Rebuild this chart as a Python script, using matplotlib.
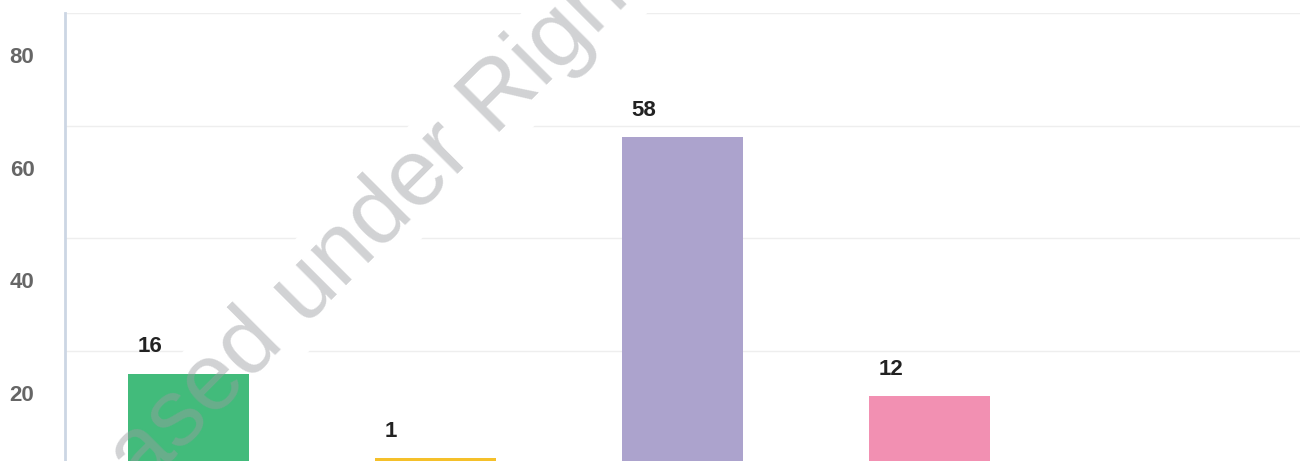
import matplotlib
matplotlib.use("Agg")
from matplotlib import pyplot as plt
from matplotlib.transforms import ScaledTranslation

plt.rcParams['font.family'] = ['Liberation Sans', 'DejaVu Sans']

# chart data
categories = ["A", "B", "C", "D"]
values = [16, 1, 58, 12]
bar_colors = ["#42bb7b", "#f5c02a", "#aca3cd", "#f290b2"]
y_ticks = [20, 40, 60, 80]
y_tick_labels = ["20", "40", "60", "80"]
watermark = "Released under Rights"

fig = plt.figure(figsize=(13.03, 4.61), dpi=100)
ax = fig.add_axes([65 / 1303, 0, 1235 / 1303, 448 / 461])

x = list(range(len(categories)))
width = 0.486
bars = ax.bar(x, values, width=width, color=bar_colors, zorder=2)

ax.set_xlim(-0.5, 4.5)
ax.set_ylim(0.53, 80)
ax.set_xticks([])
ax.set_yticks(y_ticks)
ax.set_yticklabels(y_tick_labels, fontsize=16, fontweight='bold', color='#666666')
ax.tick_params(axis='y', length=0, pad=22)
ax.grid(axis='y', color='#eeeeee', linewidth=1)
ax.set_axisbelow(True)

# labels sit lower than their grid lines in the original
shift = ScaledTranslation(0, -42 / 100, fig.dpi_scale_trans)
for lab in ax.get_yticklabels():
    lab.set_transform(lab.get_transform() + shift)

for s in ['top', 'right', 'bottom']:
    ax.spines[s].set_visible(False)
ax.spines['left'].set_color('#ccd6e4')
ax.spines['left'].set_linewidth(2)

for b, v in zip(bars, values):
    ax.annotate(str(v), xy=(b.get_x(), v), xytext=(9, 27),
                textcoords='offset pixels', ha='left', va='center',
                fontsize=16, fontweight='bold', color='#222222', zorder=4)

# watermark: white band above the grid but under the bars, grey text on top
wx, wy = 4 / 1303, 1 - 628 / 461
ax.text(wx, wy, watermark, transform=fig.transFigure, clip_on=False,
        fontsize=68, rotation=45, rotation_mode='anchor',
        ha='left', va='baseline', color='white', zorder=1,
        bbox=dict(facecolor='white', edgecolor='none', pad=0))
ax.text(wx, wy, watermark, transform=fig.transFigure, clip_on=False,
        fontsize=68, rotation=45, rotation_mode='anchor',
        ha='left', va='baseline', color='#9a9ca0', alpha=0.45, zorder=5)

fig.savefig("out.png", dpi=100)
